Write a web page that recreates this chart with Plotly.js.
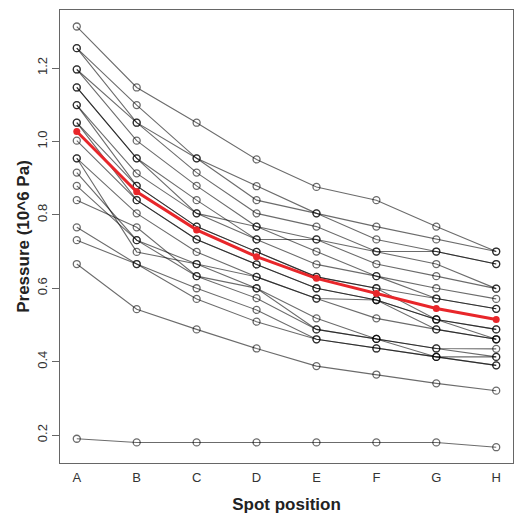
<!DOCTYPE html>
<html>
<head>
<meta charset="utf-8">
<script src="https://cdn.plot.ly/plotly-3.0.1.min.js"></script>
<style>html,body{margin:0;padding:0;background:#fff;}#chart{width:514px;height:516px;}</style>
</head>
<body>
<div id="chart"></div>
<script>
const spots = ["A", "B", "C", "D", "E", "F", "G", "H"];

const tire01 = [1.313, 1.147, 1.051, 0.951, 0.876, 0.840, 0.768, 0.700];
const tire02 = [1.254, 1.099, 0.954, 0.878, 0.804, 0.768, 0.733, 0.700];
const tire03 = [1.254, 1.051, 0.954, 0.840, 0.804, 0.733, 0.700, 0.666];
const tire04 = [1.196, 1.051, 0.915, 0.804, 0.768, 0.700, 0.700, 0.666];
const tire05 = [1.196, 1.002, 0.879, 0.768, 0.733, 0.700, 0.666, 0.599];
const tire06 = [1.147, 0.954, 0.840, 0.733, 0.733, 0.666, 0.633, 0.599];
const tire07 = [1.147, 0.954, 0.804, 0.768, 0.700, 0.633, 0.600, 0.571];
const tire08 = [1.099, 0.913, 0.804, 0.733, 0.665, 0.633, 0.572, 0.544];
const tire09 = [1.099, 0.879, 0.768, 0.699, 0.631, 0.600, 0.572, 0.544];
const tire10 = [1.051, 0.879, 0.768, 0.699, 0.631, 0.600, 0.515, 0.488];
const tire11 = [1.051, 0.840, 0.733, 0.665, 0.600, 0.568, 0.515, 0.488];
const tire12 = [1.002, 0.840, 0.733, 0.665, 0.600, 0.568, 0.515, 0.461];
const tire13 = [0.954, 0.804, 0.699, 0.631, 0.572, 0.568, 0.488, 0.461];
const tire14 = [0.954, 0.699, 0.666, 0.631, 0.572, 0.518, 0.488, 0.461];
const tire15 = [0.915, 0.731, 0.666, 0.600, 0.518, 0.462, 0.436, 0.435];
const tire16 = [0.879, 0.731, 0.633, 0.600, 0.488, 0.462, 0.436, 0.413];
const tire17 = [0.840, 0.766, 0.633, 0.573, 0.488, 0.462, 0.413, 0.413];
const tire18 = [0.766, 0.666, 0.600, 0.541, 0.461, 0.436, 0.413, 0.390];
const tire19 = [0.731, 0.666, 0.571, 0.509, 0.461, 0.436, 0.413, 0.390];
const tire20 = [0.666, 0.543, 0.488, 0.436, 0.388, 0.365, 0.341, 0.321];
const tire21 = [0.190, 0.180, 0.180, 0.180, 0.180, 0.180, 0.180, 0.167];

const meanPressure = [1.027, 0.863, 0.759, 0.686, 0.627, 0.586, 0.545, 0.515];

const yTicks = [0.2, 0.4, 0.6, 0.8, 1.0, 1.2];
const yTickLabels = ["0.2", "0.4", "0.6", "0.8", "1.0", "1.2"];

const allTires = [tire01, tire02, tire03, tire04, tire05, tire06, tire07, tire08, tire09, tire10,
  tire11, tire12, tire13, tire14, tire15, tire16, tire17, tire18, tire19, tire20, tire21];

const grey = "rgba(0,0,0,0.58)";
const traces = allTires.map(function (vals) {
  return {
    x: spots, y: vals, type: "scatter", mode: "lines+markers",
    line: {color: grey, width: 1.1},
    marker: {symbol: "circle-open", size: 7, color: grey, line: {width: 1.3, color: grey}},
    hoverinfo: "skip", showlegend: false
  };
});
traces.push({
  x: spots, y: meanPressure, type: "scatter", mode: "lines+markers",
  line: {color: "#e8262a", width: 3},
  marker: {symbol: "circle", size: 7, color: "#e8262a"},
  showlegend: false
});

const layout = {
  width: 514, height: 516,
  margin: {l: 60, r: 1, t: 10, b: 53},
  paper_bgcolor: "#fff", plot_bgcolor: "#fff",
  font: {family: "Liberation Sans, Arial, sans-serif", color: "#333"},
  showlegend: false,
  xaxis: {
    type: "category", range: [-0.28, 7.28],
    showgrid: false, zeroline: false,
    showline: true, mirror: true, linecolor: "#666", linewidth: 1.2,
    ticks: "outside", ticklen: 2, tickcolor: "rgba(0,0,0,0)",
    tickfont: {size: 13, color: "#333"},
    title: {text: "<b>Spot position</b>", font: {size: 17, color: "#222"}, standoff: 14}
  },
  yaxis: {
    range: [0.124, 1.358],
    tickvals: yTicks, ticktext: yTickLabels, tickangle: -90,
    showgrid: false, zeroline: false,
    showline: true, mirror: true, linecolor: "#666", linewidth: 1.2,
    ticks: "outside", ticklen: 7, tickcolor: "#666",
    tickfont: {size: 13, color: "#333"},
    title: {text: "<b>Pressure (10^6 Pa)</b>", font: {size: 17, color: "#222"}, standoff: 0}
  }
};

Plotly.newPlot("chart", traces, layout, {staticPlot: true, displayModeBar: false});
</script>
</body>
</html>
